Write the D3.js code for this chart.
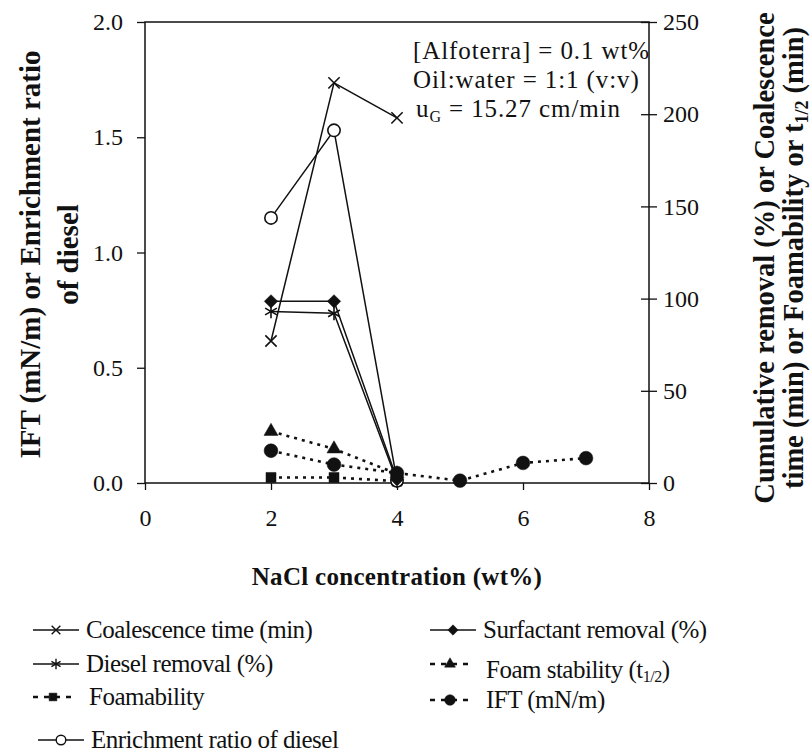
<!DOCTYPE html>
<html>
<head>
<meta charset="utf-8">
<script src="https://cdn.jsdelivr.net/npm/d3@7.9.0/dist/d3.min.js"></script>
<style>
  body { margin: 0; background: #fff; }
  svg text { font-family: "Liberation Serif", "Times New Roman", serif; fill: #111; }
</style>
</head>
<body>
<svg id="chart"></svg>
<script>
//------------------------------------------------------------
// data
//------------------------------------------------------------
const nacl = [2, 3, 4];
const naclIft = [2, 3, 4, 5, 6, 7];

const coalescence = [77, 217, 198];      // right axis
const surfactant = [98.5, 98.5, 2];       // right axis
const diesel = [93, 92, 1];               // right axis
const foamStability = [28, 18.5, 5];      // right axis
const foamability = [3, 3, 1];            // right axis
const enrichment = [1.15, 1.53, 0.01];    // left axis
const ift = [0.14, 0.08, 0.043, 0.01, 0.087, 0.108]; // left axis

const xTicks = [0, 2, 4, 6, 8];
const leftTicks = [0, 0.5, 1.0, 1.5, 2.0];
const rightTicks = [0, 50, 100, 150, 200, 250];

const width = 811, height = 756;
const m = { left: 145, top: 22, right: 162, bottom: 273 };
const w = width - m.left - m.right, h = height - m.top - m.bottom;

const svg = d3.select("#chart").attr("width", width).attr("height", height);
const g = svg.append("g").attr("transform", `translate(${m.left},${m.top})`);

const x = d3.scaleLinear().domain([0, 8]).range([0, w]);
const yL = d3.scaleLinear().domain([0, 2]).range([h, 0]);
const yR = d3.scaleLinear().domain([0, 250]).range([h, 0]);

// frame
g.append("rect").attr("width", w).attr("height", h)
  .attr("fill", "none").attr("stroke", "#111").attr("stroke-width", 1.5);

// axes
const styleAxis = sel => {
  sel.select(".domain").remove();
  sel.selectAll("line").attr("stroke", "#111").attr("stroke-width", 1.3);
  sel.selectAll("text").attr("font-size", 24).attr("fill", "#111");
};

g.append("g").attr("transform", `translate(0,${h})`)
  .call(d3.axisBottom(x).tickValues(xTicks).tickFormat(d3.format("d")).tickSize(7).tickPadding(19))
  .call(styleAxis);

g.append("g")
  .call(d3.axisLeft(yL).tickValues(leftTicks).tickFormat(d3.format(".1f")).tickSize(8).tickPadding(14))
  .call(styleAxis);

const rightAxis = g.append("g").attr("transform", `translate(${w},0)`)
  .call(d3.axisRight(yR).tickValues(rightTicks).tickSize(8).tickPadding(8))
  .call(styleAxis);
rightAxis.selectAll(".tick line").attr("x1", -8);
rightAxis.selectAll(".tick text").attr("text-anchor", "start").attr("x", 14);

// axis titles
svg.append("text")
  .attr("x", m.left + x(4)).attr("y", 585)
  .attr("text-anchor", "middle").attr("font-size", 25).attr("font-weight", "bold")
  .attr("letter-spacing", 0.3)
  .text("NaCl concentration (wt%)");

const leftTitle = svg.append("text")
  .attr("transform", `translate(40,${m.top + h / 2 + 2}) rotate(-90)`)
  .attr("text-anchor", "middle").attr("font-size", 29).attr("font-weight", "bold");
leftTitle.append("tspan").attr("x", 0).attr("dy", 0).text("IFT (mN/m) or Enrichment ratio");
leftTitle.append("tspan").attr("x", 0).attr("dy", 38).text("of diesel");

const rightTitle = svg.append("text")
  .attr("transform", `translate(774,258) rotate(-90)`)
  .attr("text-anchor", "middle").attr("font-size", 28.5).attr("font-weight", "bold");
rightTitle.append("tspan").attr("x", 0).attr("dy", 0).text("Cumulative removal (%) or Coalescence");
const rt2 = rightTitle.append("tspan").attr("x", 0).attr("dy", 29);
rt2.append("tspan").text("time (min) or Foamability or t");
rt2.append("tspan").attr("font-size", 18).attr("dy", 5).text("1/2");
rt2.append("tspan").attr("dy", -5).text(" (min)");

// conditions note
const note = g.append("g").attr("font-size", 25).attr("letter-spacing", 0.9);
note.append("text").attr("x", 268).attr("y", 37).text("[Alfoterra] = 0.1 wt%");
note.append("text").attr("x", 268).attr("y", 66).text("Oil:water = 1:1 (v:v)");
const ug = note.append("text").attr("x", 271).attr("y", 95);
ug.append("tspan").text("u");
ug.append("tspan").attr("font-size", 16).attr("dy", 5).text("G");
ug.append("tspan").attr("dy", -5).text(" = 15.27 cm/min");

//------------------------------------------------------------
// series
//------------------------------------------------------------
const series = [
  { name: "Coalescence time (min)", xs: nacl, ys: coalescence, y: yR, sym: d3.symbolTimes, size: 85, fill: "none", dash: null },
  { name: "Diesel removal (%)", xs: nacl, ys: diesel, y: yR, sym: d3.symbolAsterisk, size: 130, fill: "none", dash: null },
  { name: "Foamability", xs: nacl, ys: foamability, y: yR, sym: d3.symbolSquare, size: 100, fill: "#111", dash: "3,5" },
  { name: "Enrichment ratio of diesel", xs: nacl, ys: enrichment, y: yL, sym: d3.symbolCircle, size: 120, fill: "#fff", dash: null },
  { name: "Surfactant removal (%)", xs: nacl, ys: surfactant, y: yR, sym: d3.symbolDiamond2, size: 115, fill: "#111", dash: null },
  { name: "Foam stability (t1/2)", xs: nacl, ys: foamStability, y: yR, sym: d3.symbolTriangle, size: 85, fill: "#111", dash: "3,5" },
  { name: "IFT (mN/m)", xs: naclIft, ys: ift, y: yL, sym: d3.symbolCircle, size: 150, fill: "#111", dash: "3,5" }
];

const line = d3.line();

series.forEach(s => {
  const pts = s.xs.map((v, i) => [x(v), s.y(s.ys[i])]);
  g.append("path")
    .attr("d", line(pts))
    .attr("fill", "none")
    .attr("stroke", "#111")
    .attr("stroke-width", s.dash ? 2.6 : 1.5)
    .attr("stroke-dasharray", s.dash);
  g.selectAll(null).data(pts).enter().append("path")
    .attr("transform", d => `translate(${d[0]},${d[1]})`)
    .attr("d", d3.symbol(s.sym, s.size))
    .attr("fill", s.fill)
    .attr("stroke", "#111")
    .attr("stroke-width", s.fill === "#111" ? 0.5 : 1.6);
});

//------------------------------------------------------------
// legend
//------------------------------------------------------------
const legendPos = [
  [33, 630], [33, 664], [33, 697], [38, 740],
  [430, 630], [430, 664], [430, 700]
];

series.forEach((s, i) => {
  const [lx, ly] = legendPos[i];
  const lg = svg.append("g").attr("transform", `translate(${lx},${ly})`);
  lg.append("line").attr("x1", 0).attr("x2", s.dash ? 40 : 46)
    .attr("stroke", "#111").attr("stroke-width", s.dash ? 2.4 : 1.5)
    .attr("stroke-dasharray", s.dash ? "5,6" : null);
  lg.append("path")
    .attr("transform", `translate(${s.dash ? 20 : 23},0)`)
    .attr("d", d3.symbol(s.sym, s.size * 0.6))
    .attr("fill", s.fill).attr("stroke", "#111")
    .attr("stroke-width", s.fill === "#111" ? 0.5 : 1.4);
  const t = lg.append("text").attr("x", s.dash ? 56 : 53).attr("y", 8)
    .attr("font-size", 25).attr("letter-spacing", -0.5);
  if (s.name === "Foam stability (t1/2)") {
    t.attr("y", 14);
    t.append("tspan").text("Foam stability (t");
    t.append("tspan").attr("font-size", 16).attr("dy", 4).text("1/2");
    t.append("tspan").attr("dy", -4).text(")");
  } else {
    t.text(s.name);
  }
});
</script>
</body>
</html>
